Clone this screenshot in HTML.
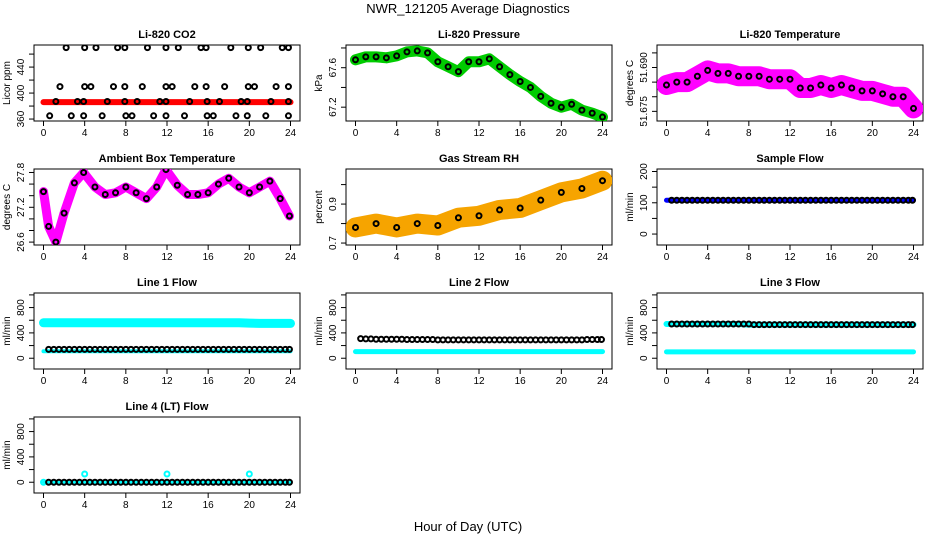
<!DOCTYPE html>
<html><head><meta charset="utf-8"><style>
body{margin:0;background:#fff;}
svg{display:block;font-family:"Liberation Sans",sans-serif;}
</style></head><body>
<svg id="c" width="936" height="540" viewBox="0 0 936 540">
<text x="468" y="13" text-anchor="middle" font-size="13">NWR_121205  Average Diagnostics</text>
<text x="468" y="531" text-anchor="middle" font-size="13">Hour of Day (UTC)</text>
</svg>
<script>
const xTicks=[0,4,8,12,16,20,24];
const hh=[0.5,1,1.5,2,2.5,3,3.5,4,4.5,5,5.5,6,6.5,7,7.5,8,8.5,9,9.5,10,10.5,11,11.5,12,12.5,13,13.5,14,14.5,15,15.5,16,16.5,17,17.5,18,18.5,19,19.5,20,20.5,21,21.5,22,22.5,23,23.5,23.9];
const hrs=[0,1,2,3,4,5,6,7,8,9,10,11,12,13,14,15,16,17,18,19,20,21,22,23,24];
// CO2
const co2Hi=[2.2,4.0,5.1,7.2,7.9,10.1,11.9,13.1,15.3,15.8,18.2,19.9,21.1,23.2,23.8];
const co2HiV=[470,470,470,470,470,470,470,470,470,470,470,470,470,470,470];
const co2Mid=[1.6,4.0,4.6,6.8,7.9,9.6,11.9,12.5,14.7,15.8,17.6,19.9,20.5,22.6,23.8];
const co2MidV=[410,410,410,410,410,410,410,410,410,410,410,410,410,410,410];
const co2Lo=[1.2,3.3,3.9,6.2,7.9,9.1,11.3,11.9,14.2,15.9,17.1,19.2,19.8,22.1,23.8];
const co2LoV=[387,387,387,387,387,387,387,387,387,387,387,387,387,387,387];
const co2B=[0.6,2.7,3.9,5.7,8.0,8.6,10.7,11.9,13.7,15.9,16.5,18.7,19.8,21.6,23.8];
const co2BV=[365,365,365,365,365,365,365,365,365,365,365,365,365,365,365];
const co2Red=[386,386,386,386,386,386,386,386,386,386,386,386,386,386,386,386,386,386,386,386,386,386,386,386,386];
// Pressure
const pres=[67.68,67.71,67.71,67.70,67.72,67.76,67.77,67.75,67.66,67.61,67.56,67.66,67.66,67.69,67.61,67.53,67.46,67.40,67.31,67.24,67.20,67.23,67.17,67.14,67.10];
// Li-820 temp
const ltemp=[51.684,51.685,51.685,51.687,51.689,51.688,51.688,51.687,51.687,51.687,51.686,51.686,51.686,51.683,51.683,51.684,51.683,51.684,51.683,51.682,51.682,51.681,51.680,51.680,51.676];
// Ambient
const ambH=[0,0.5,1.2,2,3,3.9,5,6,7,8,9,10,11,11.9,13,14,15,16,17,18,19,20,21,22,23,23.9];
const ambV=[27.47,26.87,26.6,27.1,27.62,27.8,27.55,27.42,27.45,27.55,27.45,27.35,27.55,27.85,27.58,27.42,27.42,27.45,27.6,27.7,27.55,27.45,27.55,27.65,27.35,27.05];
// RH
const rhH=[0,2,4,6,8,10,12,14,16,18,20,22,24];
const rhV=[0.78,0.80,0.78,0.80,0.79,0.83,0.84,0.87,0.88,0.92,0.96,0.98,1.02];
// flows (bands hourly)
const sampleV=[108,108,108,108,108,108,108,108,108,108,108,108,108,108,108,108,108,108,108,108,108,108,108,108,108];
const l1Hi=[560,560,560,560,560,560,560,560,560,560,560,560,560,560,560,560,560,560,560,560,555,550,550,550,550];
const l1Lo=[110,110,110,110,110,110,110,110,110,110,110,110,110,110,110,110,110,110,110,110,110,110,110,110,110];
const l2Cy=[105,105,105,105,105,105,105,105,105,105,105,105,105,105,105,105,105,105,105,105,105,105,105,105,105];
const l3Hi=[540,540,540,540,540,540,540,540,530,530,530,530,530,530,530,530,530,530,530,530,530,530,530,530,530];
const l3Lo=[100,100,100,100,100,100,100,100,100,100,100,100,100,100,100,100,100,100,100,100,100,100,100,100,100];
const l4Cy=[0,0,0,0,0,0,0,0,0,0,0,0,0,0,0,0,0,0,0,0,0,0,0,0,0];
// flows (black points half-hourly)
const sampleBlk=[108,108,108,108,108,108,108,108,108,108,108,108,108,108,108,108,108,108,108,108,108,108,108,108,108,108,108,108,108,108,108,108,108,108,108,108,108,108,108,108,108,108,108,108,108,108,108,108];
const l1Blk=[140,140,140,140,140,140,140,140,140,140,140,140,140,140,140,140,140,140,140,140,140,140,140,140,140,140,140,140,140,140,140,140,140,140,140,140,140,140,140,140,140,140,140,140,140,140,140,140];
const l2Blk=[310,305,305,300,300,300,300,300,300,295,295,295,295,295,295,290,290,290,290,290,290,290,290,290,290,290,290,290,290,290,290,290,290,290,290,290,290,290,290,290,290,290,290,290,295,295,295,295];
const l3Blk=[540,540,540,540,540,540,540,540,540,540,540,540,540,540,540,540,530,530,530,530,530,530,530,530,530,530,530,530,530,530,530,530,530,530,530,530,530,530,530,530,530,530,530,530,530,530,530,530];
const l4Blk=[0,0,0,0,0,0,0,0,0,0,0,0,0,0,0,0,0,0,0,0,0,0,0,0,0,0,0,0,0,0,0,0,0,0,0,0,0,0,0,0,0,0,0,0,0,0,0,0];
const l4OutH=[0,4,12,20];
const l4OutV=[0,130,130,130];

const NS="http://www.w3.org/2000/svg";
const svg=document.getElementById('c');
const colL=[34,346,657], rowT=[45,169,293,417], W=266, H=76;
function mk(t,a,p){const e=document.createElementNS(NS,t);for(const k in a)e.setAttribute(k,a[k]);(p||svg).appendChild(e);return e;}
function panel(c,r,title,ylab,y0,y1,yt,ylabels){
  const L=colL[c],T=rowT[r];
  const g=mk('g',{});
  
  
  const X=h=>L+9.5+h*(247/24), Y=v=>T+H-(v-y0)/(y1-y0)*H;
  const t=mk('text',{x:L+W/2,y:T-7,'text-anchor':'middle','font-size':11,'font-weight':'bold'},g);t.textContent=title;
  
  mk('rect',{x:L,y:T,width:W,height:H,fill:'none',stroke:'#000','stroke-width':1},g);
  mk('line',{x1:X(0),x2:X(24),y1:T+H,y2:T+H,stroke:'#000'},g);
  xTicks.forEach(v=>{mk('line',{x1:X(v),x2:X(v),y1:T+H,y2:T+H+5,stroke:'#000'},g);
    const tx=mk('text',{x:X(v),y:T+H+15,'text-anchor':'middle','font-size':10},g);tx.textContent=v;
    });
  yt.forEach((v,i)=>{mk('line',{x1:L,x2:L-5,y1:Y(v),y2:Y(v),stroke:'#000'},g);
    if(ylabels[i]!==''){const tx=mk('text',{x:L-10,y:Y(v),'text-anchor':'middle','font-size':10,transform:`rotate(-90 ${L-10} ${Y(v)})`},g);tx.textContent=ylabels[i];
    }});
  const yl=mk('text',{x:L-24,y:T+H/2,'text-anchor':'middle','font-size':10,transform:`rotate(-90 ${L-24} ${T+H/2})`},g);yl.textContent=ylab;
  
  const clip='cp'+c+r;const cp=mk('clipPath',{id:clip},g);mk('rect',{x:L,y:T,width:W,height:H},cp);
  const pg=mk('g',{'clip-path':`url(#${clip})`},g);
  return {
    band(hs,vs,col,w,name){const p=mk('polyline',{points:hs.map((h,i)=>X(h)+','+Y(vs[i])).join(' '),fill:'none',stroke:col,'stroke-width':w,'stroke-linejoin':'round','stroke-linecap':'round'},pg);
      },
    pts(hs,vs,col,name){hs.forEach((h,i)=>{const e=mk('circle',{cx:X(h),cy:Y(vs[i]),r:2.5,fill:'none',stroke:col,'stroke-width':2},pg);
      });}
  };
}
let p;
p=panel(0,0,'Li-820 CO2','Licor ppm',357,474,[360,380,400,420,440,460],['360','','400','','440','']);
p.band(hrs,co2Red,'#f00',6,'co2-red-series');
p.pts(co2Hi,co2HiV,'#000','co2-point');p.pts(co2Mid,co2MidV,'#000','co2-point');p.pts(co2Lo,co2LoV,'#000','co2-point');p.pts(co2B,co2BV,'#000','co2-point');
p=panel(1,0,'Li-820 Pressure','kPa',67.06,67.83,[67.2,67.4,67.6,67.8],['67.2','','67.6','']);
p.band(hrs,pres,'#0c0',11,'pressure-band');p.pts(hrs,pres,'#000','pressure-point');
p=panel(2,0,'Li-820 Temperature','degrees C',51.6717,51.6977,[51.675,51.680,51.685,51.690,51.695],['51.675','','','51.690','']);
p.band(hrs,ltemp,'#f0f',20,'temperature-band');p.pts(hrs,ltemp,'#000','temperature-point');
p=panel(0,1,'Ambient Box Temperature','degrees C',26.55,27.86,[26.6,26.8,27.0,27.2,27.4,27.6,27.8],['26.6','','','27.2','','','27.8']);
p.band(ambH,ambV,'#f0f',9,'ambient-band');p.pts(ambH,ambV,'#000','ambient-point');
p=panel(1,1,'Gas Stream RH','percent',0.69,1.08,[0.7,0.8,0.9,1.0],['0.7','','0.9','']);
p.band(rhH,rhV,'#f6a400',20,'rh-band');p.pts(rhH,rhV,'#000','rh-point');
p=panel(2,1,'Sample Flow','ml/min',-35,208,[0,50,100,150,200],['0','','100','','200']);
p.band(hrs,sampleV,'#00f',5,'sample-flow-band');p.pts(hh,sampleBlk,'#000','sample-flow-point');
const fT=[0,200,400,600,800,1000],fL=['0','','400','','800',''];
p=panel(0,2,'Line 1 Flow','ml/min',-170,1030,fT,fL);
p.band(hrs,l1Hi,'#0ff',9,'line1-upper-band');p.band(hrs,l1Lo,'#0ff',4,'line1-lower-band');p.pts(hh,l1Blk,'#000','line1-point');
p=panel(1,2,'Line 2 Flow','ml/min',-170,1030,fT,fL);
p.band(hrs,l2Cy,'#0ff',5,'line2-band');p.pts(hh,l2Blk,'#000','line2-point');
p=panel(2,2,'Line 3 Flow','ml/min',-170,1030,fT,fL);
p.band(hrs,l3Hi,'#0ff',6,'line3-upper-band');p.band(hrs,l3Lo,'#0ff',5,'line3-lower-band');p.pts(hh,l3Blk,'#000','line3-point');
p=panel(0,3,'Line 4 (LT) Flow','ml/min',-170,1030,fT,fL);
p.band(hrs,l4Cy,'#0ff',3,'line4-band');p.pts(l4OutH,l4OutV,'#0ff','line4-outlier');p.pts(hh,l4Blk,'#000','line4-point');
</script>
</body></html>
